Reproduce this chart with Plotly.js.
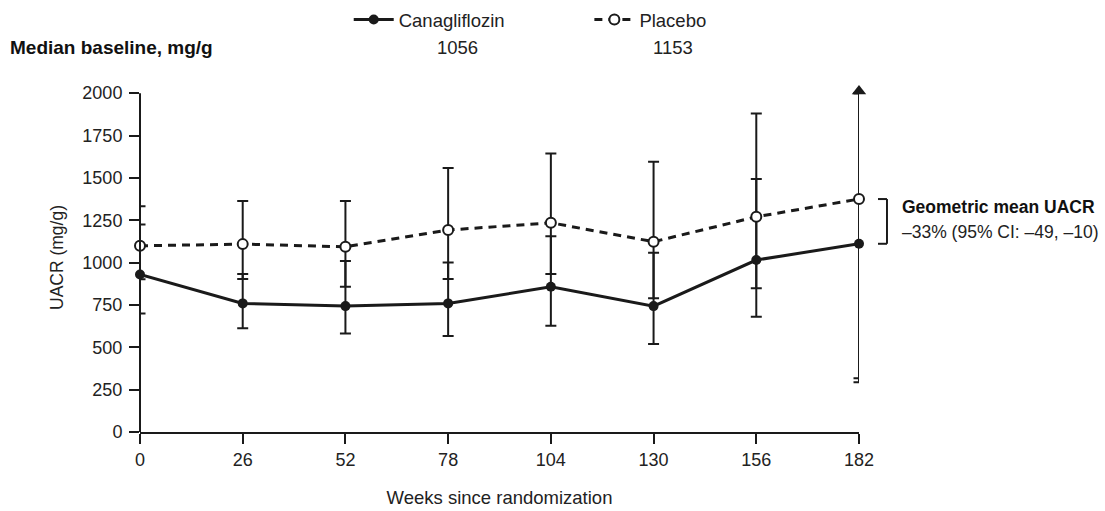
<!DOCTYPE html>
<html><head><meta charset="utf-8">
<script src="https://cdn.plot.ly/plotly-3.0.1.min.js"></script>
<style>html,body{margin:0;padding:0;background:#fff}</style>
</head><body>
<div id="chart" style="width:1105px;height:511px"></div>
<script>
// ---- data ----
const weeks = [0, 26, 52, 78, 104, 130, 156, 182];
const weekTickLabels = ['0', '26', '52', '78', '104', '130', '156', '182'];
const canaMean  = [930, 759, 743, 759, 857, 743, 1015, 1111];
const canaUpper = [1225, 932, 1009, 1001, 1156, 1058, 1494, 2000];   // last: truncated (arrow)
const canaLower = [700, 612, 582, 566, 627, 519, 680, 293];
const placeboMean  = [1099, 1109, 1093, 1192, 1235, 1123, 1270, 1375];
const placeboUpper = [1333, 1363, 1363, 1558, 1644, 1595, 1880, 2000]; // last: truncated (arrow)
const placeboLower = [901, 903, 857, 903, 932, 789, 848, 317];
const seriesNames = ['Canagliflozin', 'Placebo'];
const medianBaseline = ['1056', '1153'];
const yTickValues = [0, 250, 500, 750, 1000, 1250, 1500, 1750, 2000];
const yAxisMax = 2000;
const truncatedWeek = [182];
const truncatedArrowLevel = [2012];

const INK = '#1a1a1a';
const FONT = 'Liberation Sans, Arial, sans-serif';

const plus = (u, m) => u.map((v, i) => v - m[i]);
const minus = (l, m) => m.map((v, i) => v - l[i]);

const cana = {
  x: weeks, y: canaMean, type: 'scatter', mode: 'lines+markers', name: seriesNames[0],
  legend: 'legend', cliponaxis: false, hoverinfo: 'x+y',
  line: {color: INK, width: 3},
  marker: {color: INK, size: 10, symbol: 'circle'},
  error_y: {type: 'data', symmetric: false, array: plus(canaUpper, canaMean),
            arrayminus: minus(canaLower, canaMean), color: INK, thickness: 2, width: 5.5}
};
const placebo = {
  x: weeks, y: placeboMean, type: 'scatter', mode: 'lines+markers', name: seriesNames[1],
  legend: 'legend2', cliponaxis: false, hoverinfo: 'x+y',
  line: {color: INK, width: 3, dash: '8px,6px'},
  marker: {color: '#ffffff', size: 10, symbol: 'circle', line: {color: INK, width: 2}},
  error_y: {type: 'data', symmetric: false, array: plus(placeboUpper, placeboMean),
            arrayminus: minus(placeboLower, placeboMean), color: INK, thickness: 2, width: 5.5}
};
const arrow = {
  x: truncatedWeek, y: truncatedArrowLevel, type: 'scatter', mode: 'markers',
  showlegend: false, cliponaxis: false, hoverinfo: 'skip',
  marker: {symbol: 'triangle-up', size: 12.5, color: INK}
};

const legendCommon = {
  orientation: 'h', xanchor: 'left', yref: 'container', y: 0.961, yanchor: 'middle',
  font: {family: FONT, size: 18.5, color: '#222222'}, itemwidth: 40,
  bgcolor: 'rgba(0,0,0,0)', itemclick: false, itemdoubleclick: false
};

const layout = {
  width: 1105, height: 511,
  margin: {l: 140, r: 246, t: 83, b: 79, pad: 0},
  paper_bgcolor: '#ffffff', plot_bgcolor: '#ffffff',
  font: {family: FONT, size: 18, color: '#222222'},
  showlegend: true,
  legend: Object.assign({}, legendCommon, {x: 0.2903}),
  legend2: Object.assign({}, legendCommon, {x: 0.625}),
  xaxis: {
    range: [0, 182], tickmode: 'array', tickvals: weeks, ticktext: weekTickLabels,
    showline: true, linecolor: INK, linewidth: 2, ticks: 'outside', ticklen: 10, tickwidth: 2,
    tickcolor: INK, showgrid: false, zeroline: false, fixedrange: true,
    tickfont: {family: FONT, size: 18, color: '#222222'},
    title: {text: 'Weeks since randomization', font: {family: FONT, size: 18.5, color: '#222222'}, standoff: 22}
  },
  yaxis: {
    range: [0, 2060], tickmode: 'array', tickvals: yTickValues,
    showline: false, ticks: 'outside', ticklen: 10, tickwidth: 2,
    tickcolor: INK, showgrid: false, zeroline: false, fixedrange: true, ticklabelstandoff: 3,
    tickfont: {family: FONT, size: 18, color: '#222222'},
    title: {text: 'UACR (mg/g)', font: {family: FONT, size: 17.5, color: '#222222'}, standoff: 14}
  },
  shapes: [],
  annotations: [
    {xref: 'paper', yref: 'paper', x: -0.1836, y: 1.1025, xanchor: 'left', yanchor: 'middle',
     text: '<b>Median baseline, mg/g</b>', showarrow: false,
     font: {family: FONT, size: 19, color: '#111111'}},
    {xref: 'paper', yref: 'paper', x: 0.4409, y: 1.1025, xanchor: 'center', yanchor: 'middle',
     text: medianBaseline[0], showarrow: false, font: {family: FONT, size: 18.5, color: '#222222'}},
    {xref: 'paper', yref: 'paper', x: 0.7413, y: 1.1025, xanchor: 'center', yanchor: 'middle',
     text: medianBaseline[1], showarrow: false, font: {family: FONT, size: 18.5, color: '#222222'}},
    {xref: 'paper', yref: 'paper', x: 1.057, y: 0.6443, xanchor: 'left', yanchor: 'middle',
     text: '<b>Geometric mean UACR</b>', showarrow: false, font: {family: FONT, size: 17.5, color: '#111111'}},
    {xref: 'paper', yref: 'paper', x: 1.057, y: 0.5727, xanchor: 'left', yanchor: 'middle',
     text: '–33% (95% CI: –49, –10)', showarrow: false, font: {family: FONT, size: 17.5, color: '#222222'}}
  ]
};

// y-axis line drawn only up to the top tick (the arrow sits above it)
layout.shapes.push({type: 'line', xref: 'paper', yref: 'y', x0: 0, x1: 0,
  y0: 0, y1: yAxisMax, line: {color: INK, width: 2}});

// bracket spanning the week-182 means (built from the data arrays)
const last = weeks.length - 1;
const bx0 = 1.0264, bx1 = 1.0389;
layout.shapes.push({type: 'line', xref: 'paper', yref: 'y', x0: bx1, x1: bx1,
  y0: placeboMean[last], y1: canaMean[last], line: {color: INK, width: 2}});
layout.shapes.push({type: 'line', xref: 'paper', yref: 'y', x0: bx0, x1: bx1,
  y0: placeboMean[last], y1: placeboMean[last], line: {color: INK, width: 2}});
layout.shapes.push({type: 'line', xref: 'paper', yref: 'y', x0: bx0, x1: bx1,
  y0: canaMean[last], y1: canaMean[last], line: {color: INK, width: 2}});

Plotly.newPlot('chart', [cana, placebo, arrow], layout, {displayModeBar: false, staticPlot: true});
</script>
</body></html>
